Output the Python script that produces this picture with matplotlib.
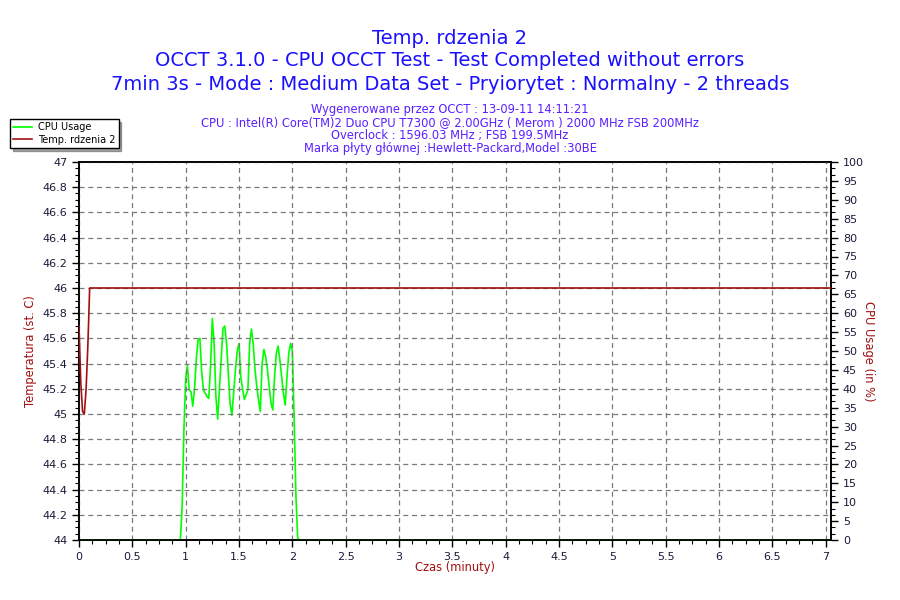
import numpy as np
import matplotlib
matplotlib.use('Agg')
import matplotlib.pyplot as plt
from matplotlib.ticker import MultipleLocator, AutoMinorLocator, FormatStrFormatter, FuncFormatter

# temperatura rdzenia 2 (sekundy -> st. C)
temp_sec = [0, 1, 2, 3, 4, 5, 6, 423]
temp_val = [45.7, 45.25, 45.02, 45.0, 45.2, 45.55, 46.0, 46.0]

# obciazenie CPU (sekundy -> %)
cpu_sec = [0, 57] + list(range(58, 125)) + [423]
cpu_val = [0, 0,
           8.6, 28.8, 42.6, 46.0, 39.7, 39.2, 35.4, 40.0, 48.0, 52.9,
           53.4, 44.5, 39.7, 38.8, 37.9, 37.5, 46.0, 58.6, 52.0, 38.0,
           32.0, 40.0, 48.0, 56.0, 56.6, 52.0, 44.0, 36.0, 33.0, 39.0,
           45.0, 50.0, 52.0, 43.2, 40.0, 37.2, 38.4, 39.7, 52.0, 55.8,
           52.0, 45.0, 40.6, 37.0, 34.0, 46.7, 50.4, 48.5, 45.0, 40.6,
           36.2, 34.4, 43.2, 49.4, 51.3, 47.6, 43.2, 38.8, 35.7, 43.2,
           49.4, 52.0, 50.0, 32.5, 12.0, 0.5, 0.0,
           0]

title_lines = ["Temp. rdzenia 2",
               "OCCT 3.1.0 - CPU OCCT Test - Test Completed without errors",
               "7min 3s - Mode : Medium Data Set - Pryiorytet : Normalny - 2 threads"]
info_lines = ["Wygenerowane przez OCCT : 13-09-11 14:11:21",
              "CPU : Intel(R) Core(TM)2 Duo CPU T7300 @ 2.00GHz ( Merom ) 2000 MHz FSB 200MHz",
              "Overclock : 1596.03 MHz ; FSB 199.5MHz",
              "Marka płyty głównej :Hewlett-Packard,Model :30BE"]

red = '#a01010'
green = '#00ff00'
tick_col = '#1a1a3a'

fig = plt.figure(figsize=(9, 6), dpi=100, facecolor='white')

# tytul
for i, line in enumerate(title_lines):
    fig.text(0.5, 1 - (38 + i * 23) / 600, line, ha='center', va='center',
             fontsize=14, color='#1a10ff')
for i, line in enumerate(info_lines):
    fig.text(0.5, 1 - (109 + i * 13.3) / 600, line, ha='center', va='center',
             fontsize=8.3, color='#5a20ff')

ax = fig.add_axes([79 / 900, 60 / 600, (831 - 79) / 900, (540 - 162) / 600])
ax2 = ax.twinx()

t_temp = np.array(temp_sec) / 60.0
t_cpu = np.array(cpu_sec) / 60.0

l2, = ax2.plot(t_cpu, cpu_val, color=green, lw=1.2, zorder=3)
l1, = ax.plot(t_temp, temp_val, color=red, lw=1.2, zorder=3)
# os temperatury na wierzchu, tlo z osi CPU
ax2.set_zorder(0)
ax.set_zorder(1)
ax.patch.set_visible(False)
ax2.set_facecolor('#fdf7e8')

ax.set_xlim(0, 7.05)
ax.set_ylim(44, 47)
ax2.set_ylim(0, 100)

ax.xaxis.set_major_locator(MultipleLocator(0.5))
ax.xaxis.set_minor_locator(AutoMinorLocator(4))
ax.yaxis.set_major_locator(MultipleLocator(0.2))
ax.yaxis.set_minor_locator(AutoMinorLocator(4))
ax2.yaxis.set_major_locator(MultipleLocator(5))
ax2.yaxis.set_minor_locator(AutoMinorLocator(3))

fmt = FuncFormatter(lambda v, p: ('%.1f' % v).rstrip('0').rstrip('.'))
ax.xaxis.set_major_formatter(fmt)
ax.yaxis.set_major_formatter(fmt)
ax2.yaxis.set_major_formatter(FormatStrFormatter('%d'))

ax.grid(True, which='major', linestyle=(0, (4, 3)), color='#7a7a7a', lw=0.9)

for a in (ax, ax2):
    for s in a.spines.values():
        s.set_color('black')
        s.set_linewidth(1.2)
    a.tick_params(which='major', length=5, width=1, colors='black',
                  labelcolor=tick_col, labelsize=8, direction='out')
    a.tick_params(which='minor', length=3, width=0.8, colors='black', direction='out')
ax.tick_params(axis='x', pad=4)

ax.set_xlabel('Czas (minuty)', color=red, fontsize=8.3, labelpad=-1)
ax.set_ylabel('Temperatura (st. C)', color=red, fontsize=8.3, labelpad=4)
ax2.set_ylabel('CPU Usage (in %)', color=red, fontsize=8.3, rotation=-90, labelpad=8)

leg = fig.legend([l2, l1], ['CPU Usage', 'Temp. rdzenia 2'],
                 loc='upper left', bbox_to_anchor=(10 / 900, 1 - 119 / 600),
                 fontsize=7, frameon=True, fancybox=False, shadow=True,
                 edgecolor='black', handlelength=2.0, borderpad=0.3,
                 labelspacing=0.3, handletextpad=0.6, borderaxespad=0)
leg.get_frame().set_linewidth(1.0)

plt.savefig('out.png', dpi=100, facecolor='white')
